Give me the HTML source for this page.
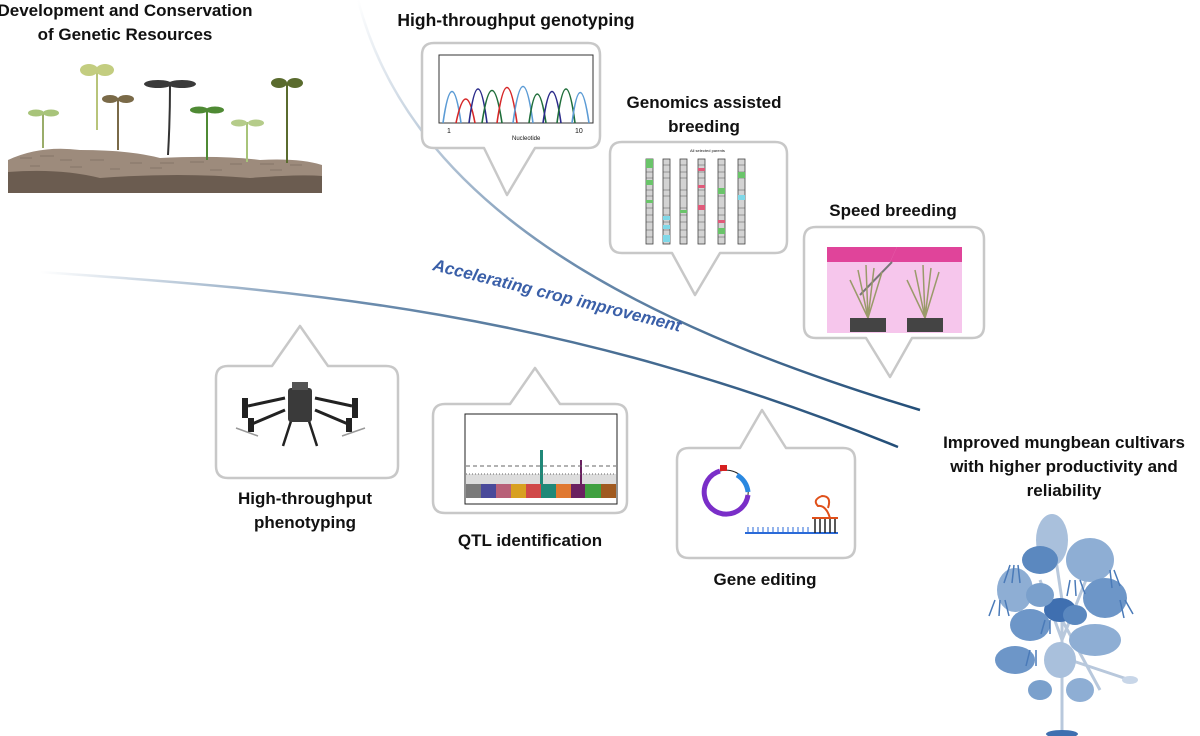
<!DOCTYPE html>
<html><head><meta charset="utf-8"><style>
html,body{margin:0;padding:0;background:#fff}
svg{display:block}
text{font-family:"Liberation Sans",sans-serif;font-weight:bold;fill:#111}
</style></head><body>
<svg width="1200" height="736" viewBox="0 0 1200 736" xmlns="http://www.w3.org/2000/svg">
<defs>
<linearGradient id="g1" x1="0" y1="0" x2="1" y2="1"><stop offset="0" stop-color="#ffffff"/><stop offset="0.5" stop-color="#6f8fb0"/><stop offset="1" stop-color="#234e78"/></linearGradient>
<linearGradient id="g2" x1="0" y1="0" x2="1" y2="0"><stop offset="0" stop-color="#ffffff"/><stop offset="0.35" stop-color="#6f8fb0"/><stop offset="1" stop-color="#234e78"/></linearGradient>
</defs>

<path d="M358,0 C410,200 620,320 920,410" fill="none" stroke="url(#g1)" stroke-width="2.5"/>
<path d="M40,272 C300,290 560,310 898,447" fill="none" stroke="url(#g2)" stroke-width="2.5"/>
<text x="0" y="0" transform="translate(432,270) rotate(14)" font-size="17" font-style="italic" style="fill:#3a5fa8">Accelerating crop improvement</text>

<!-- soil -->
<path d="M8,160 Q40,145 80,150 Q130,150 160,158 Q220,155 260,160 Q300,158 322,165 L322,193 L8,193 Z" fill="#9d8b7c"/>
<path d="M8,172 Q60,168 100,178 Q180,172 250,178 Q300,174 322,176 L322,193 L8,193 Z" fill="#6b5c50"/>
<g stroke="#7d6d60" stroke-width="0.8" fill="none">
<path d="M20,158 h12 M40,156 h14 M60,160 h12 M90,160 h14 M130,163 h12 M160,163 h14 M190,162 h14 M230,164 h12 M260,164 h14 M290,165 h12 M30,166 h10 M70,167 h12 M110,169 h10 M150,168 h12 M210,170 h12 M270,170 h12"/>
</g>
<g stroke-width="2" fill="none">
<path d="M43,148 V113" stroke="#9aad6a"/><path d="M97,130 V70" stroke="#b8c47a"/><path d="M118,150 V98" stroke="#7a6a48"/>
<path d="M168,155 Q170,120 170,86" stroke="#333"/><path d="M207,160 V110" stroke="#4f8a34"/><path d="M247,162 V122" stroke="#a8c47a"/><path d="M287,163 V83" stroke="#5a6b2e"/>
</g>
<g>
<ellipse cx="36" cy="113" rx="8" ry="3.5" fill="#a8c47a"/><ellipse cx="51" cy="113" rx="8" ry="3.5" fill="#a8c47a"/>
<ellipse cx="89" cy="70" rx="9" ry="6" fill="#c3cd80"/><ellipse cx="105" cy="70" rx="9" ry="6" fill="#c3cd80"/>
<ellipse cx="110" cy="99" rx="8" ry="4" fill="#7a6a48"/><ellipse cx="126" cy="99" rx="8" ry="4" fill="#7a6a48"/>
<ellipse cx="158" cy="84" rx="14" ry="4" fill="#3a3a3a"/><ellipse cx="182" cy="84" rx="14" ry="4" fill="#3a3a3a"/>
<ellipse cx="199" cy="110" rx="9" ry="3.5" fill="#4f8a34"/><ellipse cx="215" cy="110" rx="9" ry="3.5" fill="#4f8a34"/>
<ellipse cx="239" cy="123" rx="8" ry="3.5" fill="#b5cc8a"/><ellipse cx="256" cy="123" rx="8" ry="3.5" fill="#b5cc8a"/>
<ellipse cx="279" cy="83" rx="8" ry="5" fill="#5a6b2e"/><ellipse cx="295" cy="83" rx="8" ry="5" fill="#5a6b2e"/>
</g>

<g font-size="17" text-anchor="middle">
<text x="125" y="16">Development and Conservation</text>
<text x="125" y="40">of Genetic Resources</text>
<text x="516" y="26" font-size="17.5">High-throughput genotyping</text>
<text x="704" y="108">Genomics assisted</text>
<text x="704" y="132">breeding</text>
<text x="893" y="216">Speed breeding</text>
<text x="305" y="504">High-throughput</text>
<text x="305" y="528">phenotyping</text>
<text x="530" y="546">QTL identification</text>
<text x="765" y="585">Gene editing</text>
<text x="1064" y="448">Improved mungbean cultivars</text>
<text x="1064" y="472">with higher productivity and</text>
<text x="1064" y="496">reliability</text>
</g>

<g fill="#fff" stroke="#c8c8c8" stroke-width="2.5" stroke-linejoin="round">
<path d="M434,43 H588 Q600,43 600,55 V136 Q600,148 588,148 H535 L507,195 L484,148 H434 Q422,148 422,136 V55 Q422,43 434,43 Z"/>
<path d="M622,142 H775 Q787,142 787,154 V241 Q787,253 775,253 H720 L695,295 L672,253 H622 Q610,253 610,241 V154 Q610,142 622,142 Z"/>
<path d="M816,227 H972 Q984,227 984,239 V326 Q984,338 972,338 H912 L890,377 L866,338 H816 Q804,338 804,326 V239 Q804,227 816,227 Z"/>
<path d="M228,366 H272 L300,326 L328,366 H386 Q398,366 398,378 V466 Q398,478 386,478 H228 Q216,478 216,466 V378 Q216,366 228,366 Z"/>
<path d="M445,404 H510 L535,368 L560,404 H615 Q627,404 627,416 V501 Q627,513 615,513 H445 Q433,513 433,501 V416 Q433,404 445,404 Z"/>
<path d="M689,448 H740 L762,410 L786,448 H843 Q855,448 855,460 V546 Q855,558 843,558 H689 Q677,558 677,546 V460 Q677,448 689,448 Z"/>
</g>

<rect x="439" y="55" width="154" height="68" fill="none" stroke="#333" stroke-width="1"/>
<g fill="none" stroke-width="1.6">
<path d="M443,123 Q452,60 461,123" stroke="#5b9bd5"/>
<path d="M456,123 Q466,75 475,123" stroke="#d62728"/>
<path d="M469,123 Q478,55 487,123" stroke="#2a2a8a"/>
<path d="M482,123 Q492,58 502,123" stroke="#1f6e3a"/>
<path d="M497,123 Q507,52 517,123" stroke="#d62728"/>
<path d="M513,123 Q523,50 533,123" stroke="#5b9bd5"/>
<path d="M529,123 Q537,65 546,123" stroke="#1f6e3a"/>
<path d="M543,123 Q552,60 561,123" stroke="#2a2a8a"/>
<path d="M557,123 Q566,55 575,123" stroke="#1f6e3a"/>
<path d="M572,123 Q580,62 589,123" stroke="#5b9bd5"/>
</g>
<text x="447" y="133" font-size="7" style="font-weight:normal">1</text>
<text x="575" y="133" font-size="7" style="font-weight:normal">10</text>
<text x="512" y="140" font-size="6" style="font-weight:normal">Nucleotide</text>

<text x="690" y="152" font-size="4" style="font-weight:normal">All selected parents</text>
<g stroke="#444" stroke-width="0.8">
<rect x="646" y="159" width="7" height="85" fill="#d3d3d3"/>
<rect x="663" y="159" width="7" height="85" fill="#d3d3d3"/>
<rect x="680" y="159" width="7" height="85" fill="#d3d3d3"/>
<rect x="698" y="159" width="7" height="85" fill="#d3d3d3"/>
<rect x="718" y="159" width="7" height="85" fill="#d3d3d3"/>
<rect x="738" y="159" width="7" height="85" fill="#d3d3d3"/>
</g>
<g stroke="#555" stroke-width="0.5">
<path d="M646,165h7M646,172h7M646,178h7M646,190h7M646,196h7M646,208h7M646,215h7M646,222h7M646,230h7M646,237h7"/>
<path d="M663,165h7M663,172h7M663,178h7M663,190h7M663,196h7M663,208h7M663,215h7M663,222h7M663,230h7M663,237h7"/>
<path d="M680,165h7M680,172h7M680,178h7M680,190h7M680,196h7M680,208h7M680,215h7M680,222h7M680,230h7M680,237h7"/>
<path d="M698,165h7M698,172h7M698,178h7M698,190h7M698,196h7M698,208h7M698,215h7M698,222h7M698,230h7M698,237h7"/>
<path d="M718,165h7M718,172h7M718,178h7M718,190h7M718,196h7M718,208h7M718,215h7M718,222h7M718,230h7M718,237h7"/>
<path d="M738,165h7M738,172h7M738,178h7M738,190h7M738,196h7M738,208h7M738,215h7M738,222h7M738,230h7M738,237h7"/>
</g>
<g stroke="none">
<rect x="646" y="159" width="7" height="9" fill="#6ac46a"/><rect x="646" y="180" width="7" height="5" fill="#6ac46a"/><rect x="646" y="200" width="7" height="3" fill="#6ac46a"/>
<rect x="663" y="216" width="7" height="4" fill="#7fd8e8"/><rect x="663" y="225" width="7" height="4" fill="#7fd8e8"/><rect x="663" y="235" width="7" height="7" fill="#7fd8e8"/>
<rect x="680" y="210" width="7" height="3" fill="#6ac46a"/>
<rect x="698" y="168" width="7" height="3" fill="#e05a7a"/><rect x="698" y="185" width="7" height="3" fill="#e05a7a"/><rect x="698" y="205" width="7" height="5" fill="#e05a7a"/>
<rect x="718" y="188" width="7" height="6" fill="#6ac46a"/><rect x="718" y="220" width="7" height="3" fill="#e05a7a"/><rect x="718" y="228" width="7" height="6" fill="#6ac46a"/>
<rect x="738" y="172" width="7" height="6" fill="#6ac46a"/><rect x="738" y="195" width="7" height="5" fill="#7fd8e8"/>
</g>

<rect x="827" y="247" width="135" height="86" fill="#f6c6ec"/>
<path d="M827,247 L897,247 L890,262 L827,262 Z" fill="#e0449a"/>
<path d="M897,247 L962,247 L962,262 L890,262 Z" fill="#e0449a"/>
<path d="M892,262 L860,295" stroke="#777" stroke-width="2"/>
<g stroke="#9a9a6a" stroke-width="1.5">
<path d="M868,318 L858,270 M868,318 L866,265 M868,318 L874,268 M868,318 L882,272 M868,318 L850,280"/>
<path d="M925,318 L915,270 M925,318 L923,265 M925,318 L931,268 M925,318 L939,272 M925,318 L907,280"/>
</g>
<rect x="850" y="318" width="36" height="14" fill="#444"/>
<rect x="907" y="318" width="36" height="14" fill="#444"/>

<!-- drone -->
<g stroke="#222" stroke-width="3" fill="none">
<path d="M285,398 L248,406 M315,398 L352,406 M285,410 L252,424 M315,410 L348,424"/>
<path d="M292,418 L283,446 M308,418 L317,446" stroke-width="2.5"/>
</g>
<rect x="288" y="388" width="24" height="34" rx="3" fill="#3a3a3a"/>
<rect x="292" y="382" width="16" height="8" fill="#555"/>
<rect x="242" y="398" width="6" height="20" fill="#222"/><rect x="352" y="398" width="6" height="20" fill="#222"/>
<rect x="248" y="418" width="6" height="14" fill="#222"/><rect x="346" y="418" width="6" height="14" fill="#222"/>
<path d="M236,428 L258,436 M342,436 L365,428" stroke="#999" stroke-width="1.5"/>

<rect x="465" y="414" width="152" height="90" fill="none" stroke="#222" stroke-width="1"/>
<g>
<rect x="466" y="484" width="15" height="14" fill="#7a7a7a"/><rect x="481" y="484" width="15" height="14" fill="#4a4a9a"/>
<rect x="496" y="484" width="15" height="14" fill="#b86078"/><rect x="511" y="484" width="15" height="14" fill="#d8a020"/>
<rect x="526" y="484" width="15" height="14" fill="#d04848"/><rect x="541" y="484" width="15" height="14" fill="#208878"/>
<rect x="556" y="484" width="15" height="14" fill="#e07830"/><rect x="571" y="484" width="14" height="14" fill="#6a2060"/>
<rect x="585" y="484" width="16" height="14" fill="#40a040"/><rect x="601" y="484" width="15" height="14" fill="#a05a20"/>
<rect x="466" y="474" width="150" height="10" fill="#c7c7c7" opacity="0.6"/>
<rect x="540" y="450" width="3" height="34" fill="#208878"/><rect x="580" y="460" width="2" height="24" fill="#6a2060"/>
</g>
<path d="M466,466 H616" stroke="#666" stroke-dasharray="4,3"/>
<path d="M466,474 H616" stroke="#666" stroke-dasharray="1,2"/>

<path d="M720,471 A22,22 0 1 0 748,495" fill="none" stroke="#7a2ec8" stroke-width="5"/>
<path d="M720,471 A22,22 0 0 1 748,495" fill="none" stroke="#222" stroke-width="1"/>
<path d="M737,475 A22,22 0 0 1 748,492" fill="none" stroke="#2a88e0" stroke-width="5"/>
<rect x="720" y="465" width="7" height="6" fill="#d62020"/>
<path d="M745,533 H838" stroke="#2a6ad8" stroke-width="2"/>
<path d="M748,533 V527 M753,533 V527 M758,533 V527 M763,533 V527 M768,533 V527 M773,533 V527 M778,533 V527 M783,533 V527 M788,533 V527 M793,533 V527 M798,533 V527 M803,533 V527 M808,533 V527" stroke="#2a6ad8" stroke-width="1"/>
<path d="M815,533 V518 M820,533 V518 M825,533 V518 M830,533 V518 M835,533 V518" stroke="#222" stroke-width="1.5"/>
<path d="M812,518 H838 M830,518 Q826,505 818,506 Q812,500 822,496 Q832,496 828,508" fill="none" stroke="#e0501a" stroke-width="2"/>

<!-- plant -->
<g>
<path d="M1062,736 V600 M1062,640 L1040,580 M1062,640 L1090,570 M1062,620 L1100,690 M1062,600 L1050,520 M1070,660 L1130,680" stroke="#b8c8dc" stroke-width="3" fill="none"/>
<ellipse cx="1052" cy="540" rx="16" ry="26" fill="#a9c0dc"/>
<ellipse cx="1090" cy="560" rx="24" ry="22" fill="#8eaed4"/>
<ellipse cx="1040" cy="560" rx="18" ry="14" fill="#5b88bf"/>
<ellipse cx="1015" cy="590" rx="18" ry="22" fill="#8eaed4"/>
<ellipse cx="1105" cy="598" rx="22" ry="20" fill="#6d96c8"/>
<ellipse cx="1060" cy="610" rx="16" ry="12" fill="#3f6fb0"/>
<ellipse cx="1030" cy="625" rx="20" ry="16" fill="#6d96c8"/>
<ellipse cx="1095" cy="640" rx="26" ry="16" fill="#8eaed4"/>
<ellipse cx="1075" cy="615" rx="12" ry="10" fill="#5b88bf"/>
<ellipse cx="1040" cy="595" rx="14" ry="12" fill="#7aa0cc"/>
<ellipse cx="1015" cy="660" rx="20" ry="14" fill="#6d96c8"/>
<ellipse cx="1060" cy="660" rx="16" ry="18" fill="#a9c0dc"/>
<ellipse cx="1080" cy="690" rx="14" ry="12" fill="#8eaed4"/>
<ellipse cx="1040" cy="690" rx="12" ry="10" fill="#7aa0cc"/>
<ellipse cx="1130" cy="680" rx="8" ry="4" fill="#c8d6e8"/>
<g stroke="#4a7ab8" stroke-width="1.5">
<path d="M1010,565 l-6,18 M1014,565 l-2,18 M1018,565 l2,18 M995,600 l-6,16 M1000,600 l-1,16 M1005,600 l4,16 M1110,570 l2,18 M1114,570 l6,16 M1120,600 l4,18 M1125,600 l8,14 M1030,650 l-4,16 M1036,650 l0,16 M1070,580 l-3,16 M1075,580 l1,16 M1080,580 l5,14 M1045,620 l-4,14 M1050,620 l0,14"/>
</g>
<ellipse cx="1062" cy="734" rx="16" ry="4" fill="#3f6fb0"/>
</g>
</svg>
</body></html>
